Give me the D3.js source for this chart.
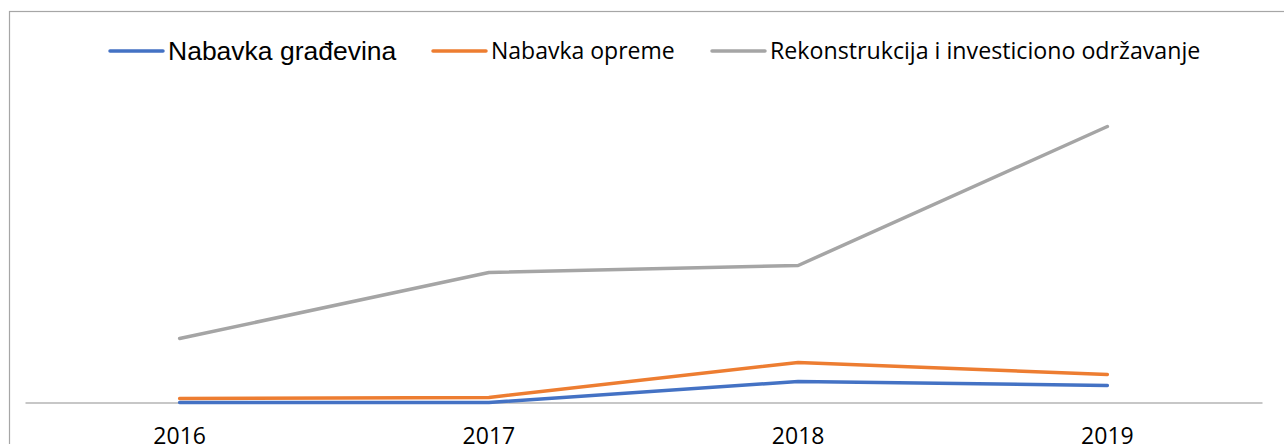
<!DOCTYPE html>
<html>
<head>
<meta charset="utf-8">
<script src="https://cdn.jsdelivr.net/npm/d3@7"></script>
<style>
  body { margin: 0; background: #fff; }
  .content { width: 1284px; height: 444px; }
</style>
</head>
<body>
<div class="content"></div>
<script>
var years = ['2016', '2017', '2018', '2019'];
var gradjevina = [0, 0, 21, 17];
var oprema = [4, 5, 40, 28];
var rekonstrukcija = [64, 130, 137, 276];
var seriesNames = ['Nabavka građevina', 'Nabavka opreme', 'Rekonstrukcija i investiciono održavanje'];
var colors = ['#4472c4', '#ed7d31', '#a5a5a5'];

var series = [
  { name: seriesNames[0], values: gradjevina, color: colors[0] },
  { name: seriesNames[1], values: oprema, color: colors[1] },
  { name: seriesNames[2], values: rekonstrukcija, color: colors[2] }
];

var svg = d3.select('.content')
  .append('svg')
  .attr('width', 1284)
  .attr('height', 444);

// chart frame (runs off the right and bottom edge)
svg.append('rect')
  .attr('x', 9.5).attr('y', 11.5)
  .attr('width', 1300).attr('height', 460)
  .attr('fill', '#fff')
  .attr('stroke', '#a6a6a6')
  .attr('stroke-width', 1.2);

var x = d3.scaleBand().range([25, 1262]).domain(years);
var y = d3.scaleLinear().range([402.5, 102.5]).domain([0, 300]);

var line = d3.line()
  .x(function(d, i) { return x(years[i]) + x.bandwidth() / 2; })
  .y(function(d) { return y(d); });

var axis_x = svg.append('g')
  .attr('class', 'axis axis--x')
  .attr('transform', 'translate(0,' + y(0) + ')')
  .call(d3.axisBottom(x).tickSize(0).tickPadding(25));

axis_x.select('path').attr('stroke', '#b4b4b4').attr('stroke-width', 1.5);
axis_x.selectAll('text')
  .style('font-family', '"Open Sans", sans-serif')
  .style('font-size', '23px')
  .style('fill', '#000');

// draw gray first so blue/orange sit on top
svg.append('g')
  .selectAll('path')
  .data(series.slice().reverse())
  .enter()
  .append('path')
  .attr('d', function(d) { return line(d.values); })
  .attr('fill', 'none')
  .attr('stroke', function(d) { return d.color; })
  .attr('stroke-width', 3.5)
  .attr('stroke-linejoin', 'round')
  .attr('stroke-linecap', 'round');

// legend
var legendX = [110, 433, 712];
var legendFont = ['Arial, "Liberation Sans", sans-serif', '"Open Sans", sans-serif', '"Open Sans", sans-serif'];
var legendSize = [26.5, 23, 23.2];
var legend = svg.append('g').attr('class', 'legend');
series.forEach(function(s, i) {
  var g = legend.append('g').attr('transform', 'translate(' + legendX[i] + ',51)');
  g.append('line')
    .attr('x1', 0).attr('x2', 53)
    .attr('stroke', s.color)
    .attr('stroke-width', 3.5)
    .attr('stroke-linecap', 'round');
  g.append('text')
    .attr('x', 58)
    .attr('y', 0)
    .attr('dy', '0.35em')
    .style('font-family', legendFont[i])
    .style('font-size', legendSize[i] + 'px')
    .style('fill', '#000')
    .text(s.name);
});
</script>
</body>
</html>
